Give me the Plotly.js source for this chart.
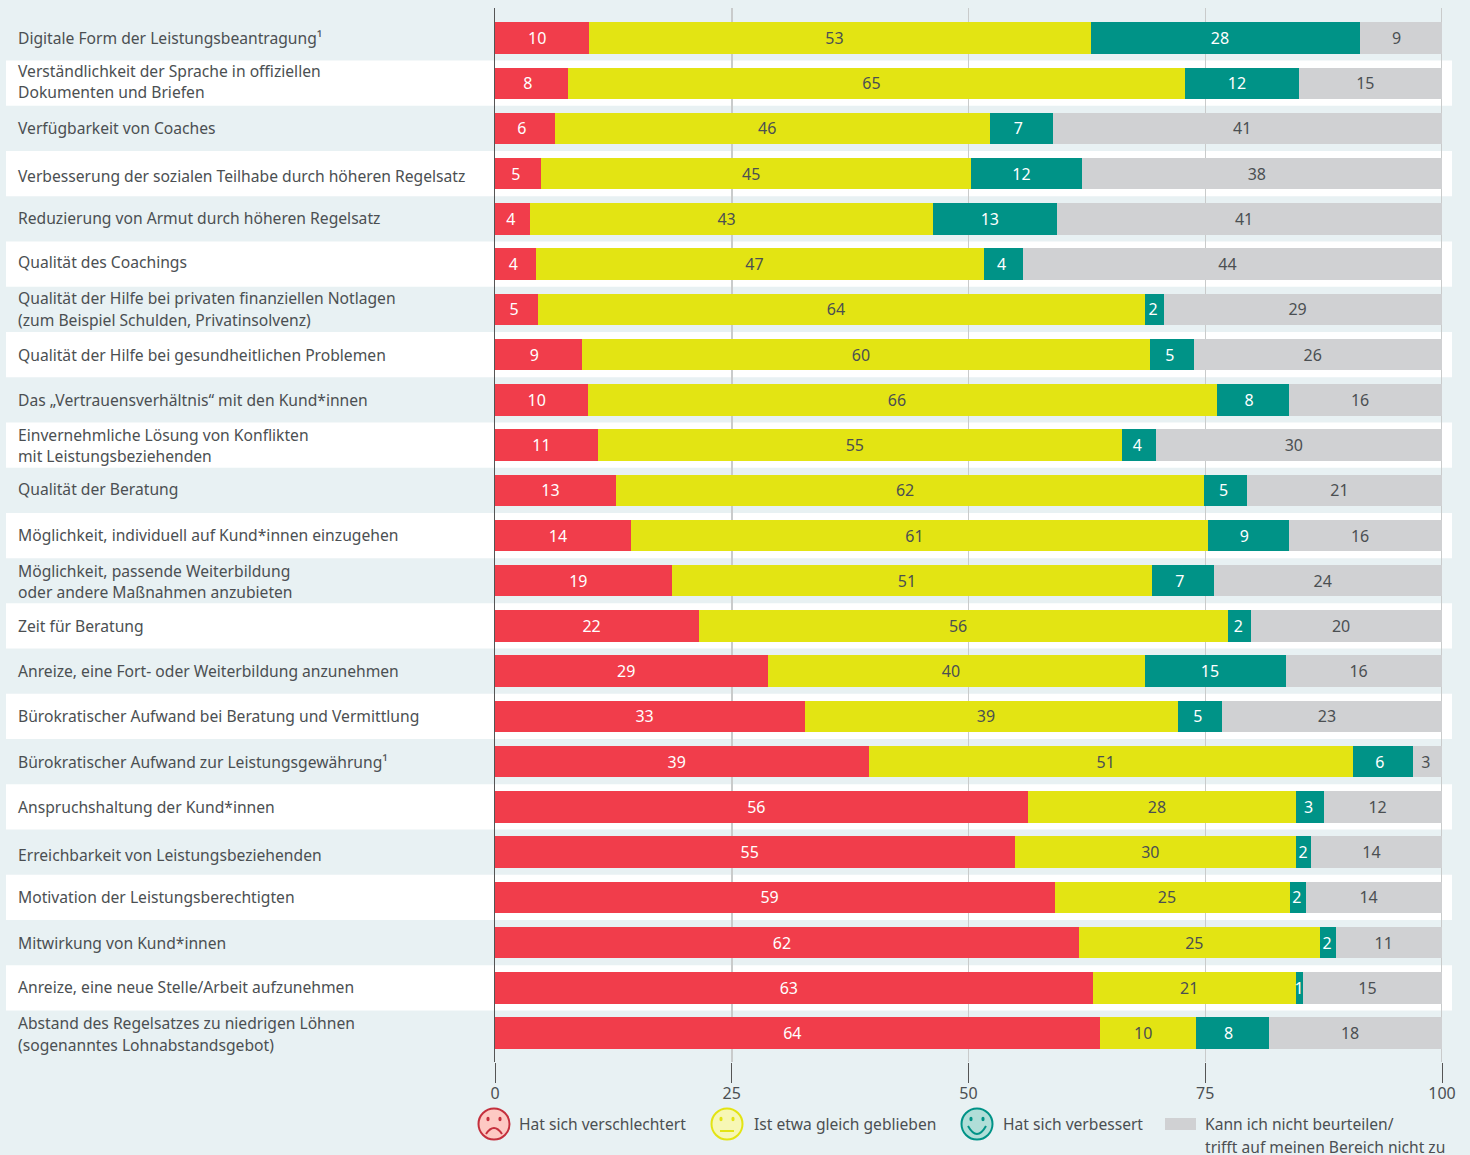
<!DOCTYPE html>
<html><head><meta charset="utf-8">
<script src="https://cdn.plot.ly/plotly-3.0.1.min.js"></script>
<style>html,body{margin:0;padding:0;background:#e8f1f3;overflow:hidden}#chart{width:1470px;height:1155px}</style>
</head><body><div id="chart"></div>
<script>
const categories = [
 "Digitale Form der Leistungsbeantragung¹",
 "Verständlichkeit der Sprache in offiziellen<br>Dokumenten und Briefen",
 "Verfügbarkeit von Coaches",
 "Verbesserung der sozialen Teilhabe durch höheren Regelsatz",
 "Reduzierung von Armut durch höheren Regelsatz",
 "Qualität des Coachings",
 "Qualität der Hilfe bei privaten finanziellen Notlagen<br>(zum Beispiel Schulden, Privatinsolvenz)",
 "Qualität der Hilfe bei gesundheitlichen Problemen",
 "Das „Vertrauensverhältnis“ mit den Kund*innen",
 "Einvernehmliche Lösung von Konflikten<br>mit Leistungsbeziehenden",
 "Qualität der Beratung",
 "Möglichkeit, individuell auf Kund*innen einzugehen",
 "Möglichkeit, passende Weiterbildung<br>oder andere Maßnahmen anzubieten",
 "Zeit für Beratung",
 "Anreize, eine Fort- oder Weiterbildung anzunehmen",
 "Bürokratischer Aufwand bei Beratung und Vermittlung",
 "Bürokratischer Aufwand zur Leistungsgewährung¹",
 "Anspruchshaltung der Kund*innen",
 "Erreichbarkeit von Leistungsbeziehenden",
 "Motivation der Leistungsberechtigten",
 "Mitwirkung von Kund*innen",
 "Anreize, eine neue Stelle/Arbeit aufzunehmen",
 "Abstand des Regelsatzes zu niedrigen Löhnen<br>(sogenanntes Lohnabstandsgebot)"
];
const worse  = [9.9,7.7,6.3,4.9,3.7,4.3,4.5,9.2,9.8,10.9,12.8,14.4,18.7,21.5,28.8,32.7,39.49,56.3,54.9,59.1,61.7,63.15,63.9];
const same   = [53.0,65.2,46.0,45.4,42.6,47.3,64.1,60.0,66.4,55.3,62.1,60.9,50.7,55.9,39.8,39.4,51.1,28.3,29.7,24.8,25.4,21.4,10.1];
const better = [28.4,12.0,6.6,11.7,13.0,4.2,2.0,4.6,7.6,3.6,4.55,8.5,6.5,2.4,14.9,4.7,6.3,2.9,1.6,1.7,1.7,0.8,7.7];
const na     = [8.7,15.1,41.1,38.0,40.7,44.2,29.4,26.2,16.2,30.2,20.55,16.2,24.1,20.2,16.49,23.2,3.11,12.49,13.8,14.4,11.2,14.65,18.3];
const seriesNames = ["Hat sich verschlechtert","Ist etwa gleich geblieben","Hat sich verbessert","Kann ich nicht beurteilen/ trifft auf meinen Bereich nicht zu"];
const xTicks = [0,25,50,75,100];

const RED="#f13d4b", YEL="#e3e413", TEAL="#009387", GREY="#d0d1d3", BG="#e8f1f3", INK="#4b4f52", GRID="#c9cbcb";
const FONT="Noto Sans";
const W=1470,H=1155,L=495,R=1442,T=8,B=1062;
const px=x=>(x-L)/(R-L), py=y=>(B-y)/(B-T);
const yTop=-0.663, yBottom=22.64, textDrop=0.044, lineGap=21.5;
// small per-row vertical nudges of the row captions, in pixels (positive = up)
const captionNudge={1:1.5,3:-2,4:1,5:2,6:0.5,9:-0.5,10:1,11:1,12:-0.5,18:-3,21:1,22:-1};

const all=[worse,same,better,na], fills=[RED,YEL,TEAL,GREY], inks=["#ffffff",INK,"#ffffff",INK];
const traces=all.map((v,s)=>({type:"bar",orientation:"h",name:seriesNames[s],x:v,y:categories,
  marker:{color:fills[s],line:{width:0}},hoverinfo:"x+name"}));
const starts=categories.map(()=>0);
all.forEach((v,s)=>{
  const lx=v.map((d,i)=>{const m=starts[i]+d/2-Math.min(0.55,d*0.05);starts[i]+=d;return m;});
  traces.push({type:"scatter",mode:"text",x:lx,y:categories.map((c,i)=>i),yaxis:"y2",text:v.map(d=>String(Math.round(d))),
    textposition:"middle center",textfont:{family:FONT,size:16,color:inks[s]},showlegend:false,hoverinfo:"skip"});
});

const shapes=[];
categories.forEach((c,i)=>{ if(i%2===1) shapes.push({type:"rect",layer:"below",xref:"paper",yref:"y",
  x0:px(6),x1:px(1452),y0:i-0.5,y1:i+0.5,fillcolor:"#ffffff",line:{width:0}}); });
shapes.push({type:"line",layer:"below",xref:"x",yref:"paper",x0:100,x1:100,y0:0,y1:1,line:{color:GRID,width:2}});
const annotations=[];
categories.forEach((c,i)=>{
  const lines=c.split("<br>");
  lines.forEach((t,k)=>annotations.push({xref:"paper",yref:"y",x:px(16),y:c,xanchor:"left",yanchor:"middle",align:"left",
    text:t,showarrow:false,yshift:(captionNudge[i]||0)+((lines.length-1)/2-k)*lineGap,font:{family:FONT,size:15.65,color:INK}}));
});

function circle(cx,cy,r,fill,ring){shapes.push({type:"circle",xref:"paper",yref:"paper",x0:px(cx-r),x1:px(cx+r),y0:py(cy+r),y1:py(cy-r),
  fillcolor:fill,line:{color:ring,width:2}});}
function dot(cx,cy,color){shapes.push({type:"circle",xref:"paper",yref:"paper",x0:px(cx-1.6),x1:px(cx+1.6),y0:py(cy+2.2),y1:py(cy-2.2),fillcolor:color,line:{width:0}});}
function curve(x0,y0,cx,cy,x1,y1,color){shapes.push({type:"path",xref:"paper",yref:"paper",
  path:`M ${px(x0)} ${py(y0)} Q ${px(cx)} ${py(cy)} ${px(x1)} ${py(y1)}`,line:{color:color,width:2}});}
// legend icons
circle(494,1124,15.5,"#fdc9c3","#c4303d"); dot(488,1119,"#c4303d"); dot(500,1119,"#c4303d"); curve(486,1134,494,1122,502,1134,"#c4303d");
circle(727,1124,15.5,"#f7f7b5",YEL); dot(721,1119,YEL); dot(733,1119,YEL); curve(720,1131,727,1131,734,1131,YEL);
circle(977,1124,15.5,"#b0ded8",TEAL); dot(971,1119,TEAL); dot(983,1119,TEAL); curve(968,1126,977,1142,986,1126,TEAL);
shapes.push({type:"rect",xref:"paper",yref:"paper",x0:px(1165),x1:px(1196),y0:py(1130),y1:py(1118),fillcolor:GREY,line:{width:0}});

[[517,1124,seriesNames[0]],[752,1124,seriesNames[1]],[1001,1124,seriesNames[2]],
 [1203,1124,"Kann ich nicht beurteilen/"],[1203,1147,"trifft auf meinen Bereich nicht zu"]].forEach(a=>{
  annotations.push({xref:"paper",yref:"paper",x:px(a[0]),y:py(a[1]),xanchor:"left",yanchor:"middle",text:a[2],showarrow:false,
    font:{family:FONT,size:15.6,color:INK}});
});

const layout={width:W,height:H,margin:{l:L,r:W-R,t:T,b:H-B,pad:0},barmode:"stack",bargap:0.305,showlegend:false,
  paper_bgcolor:BG,plot_bgcolor:"rgba(0,0,0,0)",font:{family:FONT,size:16,color:INK},
  xaxis:{range:[0,100],tickvals:xTicks,ticktext:xTicks.map(String),ticks:"outside",ticklen:20,tickwidth:1,tickcolor:"#555",
    ticklabelstandoff:-3,showgrid:true,gridcolor:GRID,gridwidth:1.5,zeroline:false,showline:false,fixedrange:true,
    tickfont:{family:FONT,size:16,color:INK}},
  yaxis:{type:"category",range:[yBottom,yTop],showticklabels:false,ticks:"",showgrid:false,zeroline:false,
    showline:true,linecolor:"#555",linewidth:1.5,fixedrange:true},
  yaxis2:{overlaying:"y",type:"linear",range:[yBottom-textDrop,yTop-textDrop],visible:false,fixedrange:true},
  shapes,annotations};
Plotly.newPlot("chart",traces,layout,{displayModeBar:false,staticPlot:true});
</script></body></html>
